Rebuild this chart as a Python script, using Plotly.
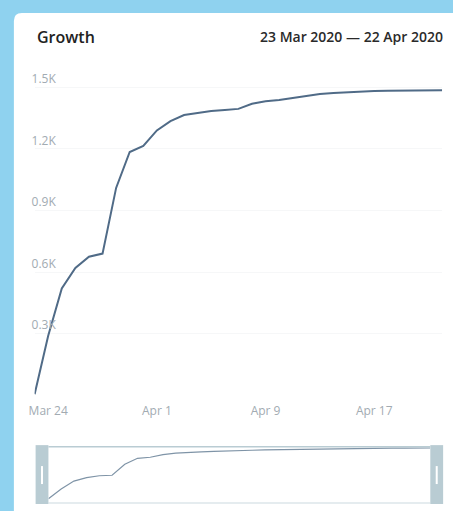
import plotly.graph_objects as go
import pandas as pd

# ---- data ----
dates = pd.date_range("2020-03-23", "2020-04-22", freq="D").strftime("%Y-%m-%d").tolist()
members = [5, 290, 520, 620, 675, 690, 1010, 1185, 1215, 1290, 1335, 1365, 1375, 1385,
           1390, 1395, 1420, 1432, 1438, 1448, 1458, 1467, 1472, 1476, 1480, 1482,
           1483, 1483, 1484, 1484, 1486]
y_tickvals = [300, 600, 900, 1200, 1500]
y_ticktext = ["0.3K", "0.6K", "0.9K", "1.2K", "1.5K"]
x_tickvals = ["2020-03-24", "2020-04-01", "2020-04-09", "2020-04-17"]
x_ticktext = ["Mar 24", "Apr 1", "Apr 9", "Apr 17"]
title_text = "Growth"
range_text = "23 Mar 2020 \u2014 22 Apr 2020"

W, H = 453, 511
def px(x):
    return x / W
def py(y):
    return 1 - y / H

x_dom = [px(29), px(442)]
FONT = "Open Sans"

fig = go.Figure()
fig.add_trace(go.Scatter(x=dates, y=members, mode="lines",
                         line=dict(color="#506b87", width=2), xaxis="x", yaxis="y",
                         hoverinfo="skip", showlegend=False))
fig.add_trace(go.Scatter(x=dates, y=members, mode="lines",
                         line=dict(color="#7f94a7", width=1.2), xaxis="x2", yaxis="y2",
                         hoverinfo="skip", showlegend=False))

r = 8
path = (f"M {px(8)},{py(H+5)} L {px(8)},{py(12+r)} "
        f"Q {px(8)},{py(12)} {px(8+r)},{py(12)} L {px(W+5)},{py(12)} "
        f"L {px(W+5)},{py(H+5)} Z")

handle = "#b9ccd3"
shapes = [
    dict(type="path", path=path, xref="paper", yref="paper", fillcolor="white",
         line=dict(width=0), layer="below"),
    dict(type="line", xref="paper", yref="paper", x0=px(43), x1=px(430), y0=py(446.5), y1=py(446.5),
         line=dict(color=handle, width=1.5)),
    dict(type="line", xref="paper", yref="paper", x0=px(43), x1=px(430), y0=py(503), y1=py(503),
         line=dict(color="#dce6ea", width=1.5)),
    dict(type="rect", xref="paper", yref="paper", x0=px(30), x1=px(43), y0=py(504), y1=py(445),
         fillcolor=handle, line=dict(width=0)),
    dict(type="rect", xref="paper", yref="paper", x0=px(430), x1=px(443), y0=py(504), y1=py(445),
         fillcolor=handle, line=dict(width=0)),
    dict(type="line", xref="paper", yref="paper", x0=px(36.5), x1=px(36.5), y0=py(466), y1=py(484),
         line=dict(color="white", width=2)),
    dict(type="line", xref="paper", yref="paper", x0=px(436.5), x1=px(436.5), y0=py(466), y1=py(484),
         line=dict(color="white", width=2)),
]

annotations = [
    dict(text=title_text, xref="paper", yref="paper", x=px(29), y=py(36), xanchor="left",
         yanchor="middle", showarrow=False,
         font=dict(family=FONT, size=16, color="#222222", weight=600)),
    dict(text=range_text, xref="paper", yref="paper", x=px(445), y=py(36), xanchor="right",
         yanchor="middle", showarrow=False,
         font=dict(family=FONT, size=14, color="#2a2a2a", weight=600)),
]

fig.update_layout(
    width=W, height=H, autosize=False,
    margin=dict(l=0, r=0, t=0, b=0, pad=0),
    paper_bgcolor="#8fd2ef", plot_bgcolor="rgba(0,0,0,0)",
    shapes=shapes, annotations=annotations,
    xaxis=dict(domain=x_dom, anchor="y", type="date", range=["2020-03-23", "2020-04-22"],
               tickvals=x_tickvals, ticktext=x_ticktext, showgrid=False, zeroline=False,
               showline=False, ticks="outside", ticklen=4, tickcolor="rgba(0,0,0,0)",
               ticklabeloverflow="allow",
               tickfont=dict(family=FONT, size=12, color="#a2abb2")),
    yaxis=dict(domain=[py(395), py(70)], anchor="x", range=[0, (395 - 70) / (61.7 / 300)],
               tickvals=y_tickvals, ticktext=y_ticktext, showgrid=True, gridcolor="#f6f7f8",
               zeroline=False, showline=False, ticklabelposition="inside top",
               ticklabeloverflow="allow", ticklabelstandoff=-6,
               tickfont=dict(family=FONT, size=12, color="#a2abb2")),
    xaxis2=dict(domain=[px(43), px(430)], anchor="y2", type="date",
                range=["2020-03-23", "2020-04-22"], visible=False),
    yaxis2=dict(domain=[py(503), py(446)], anchor="x2",
                range=[-120, 1540], visible=False),
)

fig.write_html("out.html", config={"displayModeBar": False, "staticPlot": True},
               post_script="document.body.style.margin='0';document.body.style.padding='0';"
                           "document.body.style.overflow='hidden';")
